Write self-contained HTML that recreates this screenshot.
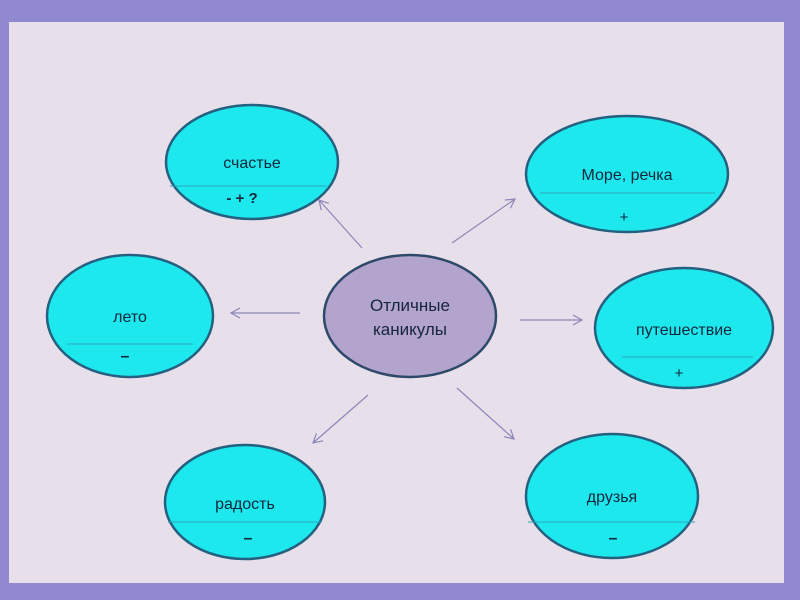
<!DOCTYPE html>
<html><head><meta charset="utf-8"><style>
html,body{margin:0;padding:0;width:800px;height:600px;overflow:hidden;background:#9189d0}
svg{display:block}
text{font-family:"Liberation Sans","DejaVu Sans",sans-serif;fill:#15253a;text-anchor:middle}
</style></head><body>
<svg width="800" height="600" viewBox="0 0 800 600">
<defs><marker id="a" markerWidth="12" markerHeight="12" refX="10" refY="6" orient="auto" markerUnits="userSpaceOnUse"><path d="M1,1 L10,6 L1,11" fill="none" stroke="#8c86b8" stroke-width="1.2"/></marker></defs>
<rect x="0" y="0" width="800" height="600" fill="#9189d0"/>
<rect x="9" y="22" width="775" height="561" fill="#e7dfea"/>
<g stroke="#8c86b8" stroke-width="1.2" marker-end="url(#a)">
<line x1="362" y1="248" x2="319" y2="200"/>
<line x1="452" y1="243" x2="515" y2="199"/>
<line x1="300" y1="313" x2="231" y2="313"/>
<line x1="520" y1="320" x2="582" y2="320"/>
<line x1="368" y1="395" x2="313" y2="443"/>
<line x1="457" y1="388" x2="514" y2="439"/>
</g>
<g fill="#1de8ee" stroke="#24607f" stroke-width="2.5">
<ellipse cx="252" cy="162" rx="86" ry="57"/>
<ellipse cx="627" cy="174" rx="101" ry="58"/>
<ellipse cx="130" cy="316" rx="83" ry="61"/>
<ellipse cx="684" cy="328" rx="89" ry="60"/>
<ellipse cx="245" cy="502" rx="80" ry="57"/>
<ellipse cx="612" cy="496" rx="86" ry="62"/>
</g>
<ellipse cx="410" cy="316" rx="86" ry="61" fill="#b3a4cd" stroke="#2e4a6a" stroke-width="2.5"/>
<g stroke="#2aa6b8" stroke-width="1">
<line x1="170" y1="186" x2="327" y2="186"/>
<line x1="540" y1="193" x2="715" y2="193"/>
<line x1="67" y1="344" x2="193" y2="344"/>
<line x1="622" y1="357" x2="753" y2="357"/>
<line x1="168" y1="522" x2="322" y2="522"/>
<line x1="528" y1="522" x2="695" y2="522"/>
</g>
<g font-size="16">
<text x="252" y="168">счастье</text>
<text x="242" y="203" font-weight="bold" font-size="15">-  + ?</text>
<text x="627" y="180">Море, речка</text>
<text x="624" y="222" font-size="15">+</text>
<text x="130" y="322">лето</text>
<text x="125" y="361" font-weight="bold">–</text>
<text x="684" y="335">путешествие</text>
<text x="679" y="378" font-size="15">+</text>
<text x="245" y="509">радость</text>
<text x="248" y="543" font-weight="bold">–</text>
<text x="612" y="502">друзья</text>
<text x="613" y="543" font-weight="bold">–</text>
<text x="410" y="311" font-size="17">Отличные</text>
<text x="410" y="335" font-size="17">каникулы</text>
</g>
</svg>
</body></html>
